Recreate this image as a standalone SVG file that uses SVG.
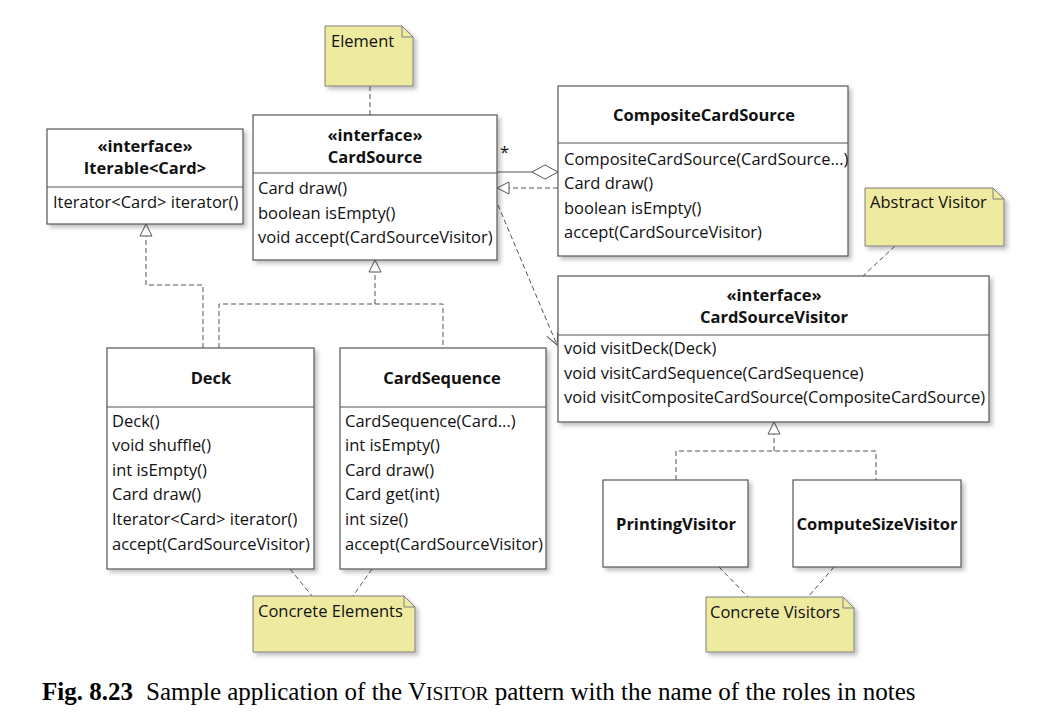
<svg xmlns="http://www.w3.org/2000/svg" width="1047" height="726" viewBox="0 0 1047 726">
<style>
  .box { fill: #ffffff; stroke: #555555; stroke-width: 1.2; }
  .div { stroke: #555555; stroke-width: 1.2; }
  .note { fill: #eeeaa0; stroke: #808080; stroke-width: 1; }
  .t { font-family: "Open Sans", "Noto Sans", sans-serif; font-size: 16.5px; fill: #111111; }
  .b { font-weight: bold; }
  .c { text-anchor: middle; }
  .dash { fill: none; stroke: #555555; stroke-width: 1; stroke-dasharray: 5 3; }
  .solid { fill: none; stroke: #555555; stroke-width: 1.2; }
  .tri { fill: #ffffff; stroke: #555555; stroke-width: 1; }
  .cap { font-family: "Liberation Serif", "Times New Roman", serif; font-size: 25px; fill: #000000; }
</style>
<defs>
  <filter id="sh" x="-10%" y="-10%" width="130%" height="130%">
    <feDropShadow dx="3" dy="3" stdDeviation="2" flood-color="#000000" flood-opacity="0.25"/>
  </filter>
  <marker id="open" markerWidth="14" markerHeight="14" refX="12" refY="6" orient="auto" markerUnits="userSpaceOnUse">
    <path d="M0,0 L12,6 L0,12" fill="none" stroke="#555555" stroke-width="1"/>
  </marker>
</defs>
<rect width="1047" height="726" fill="#ffffff"/>

<g id="connectors">
  <line class="dash" x1="370" y1="86" x2="370" y2="115"/>
  <polyline class="dash" points="203,348 203,285 146,285 146,236"/>
  <polygon class="tri" points="146,224 140,236 152,236"/>
  <polyline class="dash" points="219,348 219,304 443,304 443,348"/>
  <line class="dash" x1="375" y1="304" x2="375" y2="272"/>
  <polygon class="tri" points="375,260 369,272 381,272"/>
  <line class="solid" x1="497" y1="172" x2="532" y2="172"/>
  <polygon class="tri" points="532,172 545,165 558,172 545,179"/>
  <text class="t" x="500" y="158">*</text>
  <line class="dash" x1="558" y1="188" x2="509" y2="188"/>
  <polygon class="tri" points="497,188 509,182 509,194"/>
  <line class="dash" x1="498" y1="205" x2="557" y2="345" marker-end="url(#open)"/>
  <line class="dash" x1="895" y1="246" x2="863" y2="276"/>
  <polyline class="dash" points="676,480 676,451 876,451 876,480"/>
  <line class="dash" x1="774" y1="451" x2="774" y2="434"/>
  <polygon class="tri" points="774,422 768,434 780,434"/>
  <line class="dash" x1="290" y1="569" x2="312" y2="596"/>
  <line class="dash" x1="372" y1="569" x2="353" y2="596"/>
  <line class="dash" x1="719" y1="567" x2="748" y2="597"/>
  <line class="dash" x1="834" y1="567" x2="808" y2="597"/>
</g>

<g id="note-element">
  <path class="note" filter="url(#sh)" d="M325,26 L402,26 L413,37 L413,86 L325,86 Z"/>
  <path d="M402,26 L402,37 L413,37" fill="none" stroke="#808080" stroke-width="1"/>
  <text class="t" x="331" y="47">Element</text>
</g>

<g id="iterable">
  <rect class="box" filter="url(#sh)" x="47" y="129" width="196" height="95"/>
  <line class="div" x1="47" y1="187" x2="243" y2="187"/>
  <text class="t b c" x="145" y="152">«interface»</text>
  <text class="t b c" x="145" y="174">Iterable&lt;Card&gt;</text>
  <text class="t" x="53" y="208">Iterator&lt;Card&gt; iterator()</text>
</g>

<g id="cardsource">
  <rect class="box" filter="url(#sh)" x="253" y="115" width="244" height="145"/>
  <line class="div" x1="253" y1="173" x2="497" y2="173"/>
  <text class="t b c" x="375" y="141">«interface»</text>
  <text class="t b c" x="375" y="163">CardSource</text>
  <text class="t" x="258" y="194">Card draw()</text>
  <text class="t" x="258" y="219">boolean isEmpty()</text>
  <text class="t" x="258" y="243">void accept(CardSourceVisitor)</text>
</g>

<g id="composite">
  <rect class="box" filter="url(#sh)" x="558" y="86" width="290" height="170"/>
  <line class="div" x1="558" y1="143" x2="848" y2="143"/>
  <text class="t b c" x="704" y="121">CompositeCardSource</text>
  <text class="t" x="564" y="165">CompositeCardSource(CardSource...)</text>
  <text class="t" x="564" y="189">Card draw()</text>
  <text class="t" x="564" y="214">boolean isEmpty()</text>
  <text class="t" x="564" y="238">accept(CardSourceVisitor)</text>
</g>

<g id="note-abstract-visitor">
  <path class="note" filter="url(#sh)" d="M865,188 L993,188 L1004,199 L1004,246 L865,246 Z"/>
  <path d="M993,188 L993,199 L1004,199" fill="none" stroke="#808080" stroke-width="1"/>
  <text class="t" x="870" y="208">Abstract Visitor</text>
</g>

<g id="cardsourcevisitor">
  <rect class="box" filter="url(#sh)" x="558" y="276" width="431" height="146"/>
  <line class="div" x1="558" y1="335" x2="989" y2="335"/>
  <text class="t b c" x="774" y="301">«interface»</text>
  <text class="t b c" x="774" y="323">CardSourceVisitor</text>
  <text class="t" x="564" y="354">void visitDeck(Deck)</text>
  <text class="t" x="564" y="379">void visitCardSequence(CardSequence)</text>
  <text class="t" x="564" y="403">void visitCompositeCardSource(CompositeCardSource)</text>
</g>

<g id="deck">
  <rect class="box" filter="url(#sh)" x="107" y="348" width="207" height="221"/>
  <line class="div" x1="107" y1="407" x2="314" y2="407"/>
  <text class="t b c" x="211" y="384">Deck</text>
  <text class="t" x="112" y="427">Deck()</text>
  <text class="t" x="112" y="451">void shuffle()</text>
  <text class="t" x="112" y="476">int isEmpty()</text>
  <text class="t" x="112" y="500">Card draw()</text>
  <text class="t" x="112" y="525">Iterator&lt;Card&gt; iterator()</text>
  <text class="t" x="112" y="550">accept(CardSourceVisitor)</text>
</g>

<g id="cardsequence">
  <rect class="box" filter="url(#sh)" x="340" y="348" width="206" height="221"/>
  <line class="div" x1="340" y1="407" x2="546" y2="407"/>
  <text class="t b c" x="442" y="384">CardSequence</text>
  <text class="t" x="345" y="427">CardSequence(Card...)</text>
  <text class="t" x="345" y="451">int isEmpty()</text>
  <text class="t" x="345" y="476">Card draw()</text>
  <text class="t" x="345" y="500">Card get(int)</text>
  <text class="t" x="345" y="525">int size()</text>
  <text class="t" x="345" y="550">accept(CardSourceVisitor)</text>
</g>

<g id="printingvisitor">
  <rect class="box" filter="url(#sh)" x="603" y="480" width="145" height="87"/>
  <text class="t b c" x="676" y="530">PrintingVisitor</text>
</g>

<g id="computesizevisitor">
  <rect class="box" filter="url(#sh)" x="793" y="480" width="168" height="87"/>
  <text class="t b c" x="877" y="530">ComputeSizeVisitor</text>
</g>

<g id="note-concrete-elements">
  <path class="note" filter="url(#sh)" d="M253,596 L404,596 L415,607 L415,652 L253,652 Z"/>
  <path d="M404,596 L404,607 L415,607" fill="none" stroke="#808080" stroke-width="1"/>
  <text class="t" x="258" y="617">Concrete Elements</text>
</g>

<g id="note-concrete-visitors">
  <path class="note" filter="url(#sh)" d="M706,597 L843,597 L854,608 L854,652 L706,652 Z"/>
  <path d="M843,597 L843,608 L854,608" fill="none" stroke="#808080" stroke-width="1"/>
  <text class="t" x="710" y="618">Concrete Visitors</text>
</g>

<g id="caption">
  <text class="cap" y="700"><tspan x="42" font-weight="bold">Fig. 8.23</tspan><tspan x="146">Sample application of the V</tspan><tspan font-size="19.5px">ISITOR</tspan><tspan> pattern with the name of the roles in notes</tspan></text>
</g>
</svg>
